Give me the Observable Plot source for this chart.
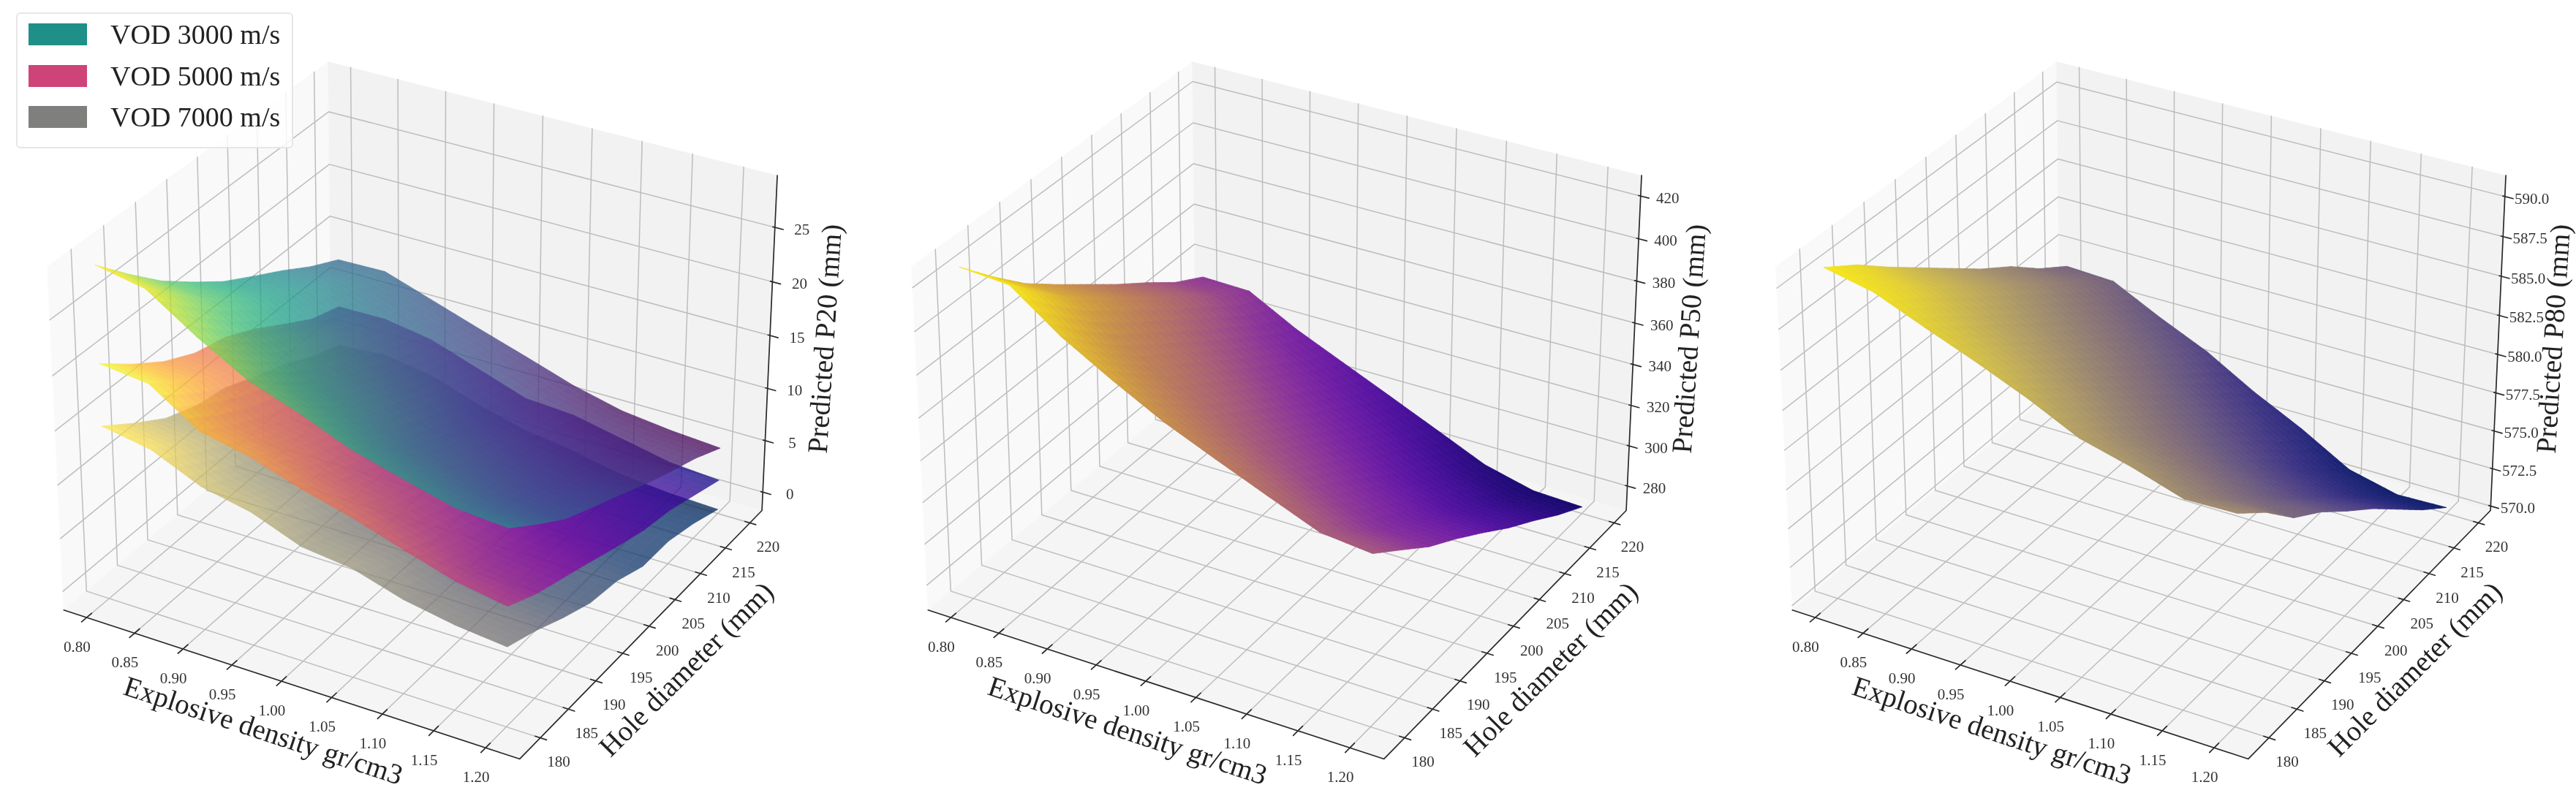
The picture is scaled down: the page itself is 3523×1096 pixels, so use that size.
<!DOCTYPE html>
<html><head><meta charset="utf-8">
<script src="https://cdn.jsdelivr.net/npm/d3@7"></script>
<script src="https://cdn.jsdelivr.net/npm/@observablehq/plot@0.6"></script>
<style>
html,body{margin:0;padding:0;background:#fff}
#wrap{position:relative;width:3523px;height:1096px;overflow:hidden;font-family:"Liberation Serif",serif}
#wrap svg{filter:blur(0.7px)}
#legend{position:absolute;left:22px;top:17px;width:379px;height:186px;box-sizing:border-box;background:rgba(255,255,255,.82);border:2px solid #e6e6e6;border-radius:6px;filter:blur(0.5px)}
.row{position:absolute;left:15px;height:30px;display:flex;align-items:center;font-size:38px;color:#222;white-space:nowrap}
.sw{display:inline-block;width:80px;height:30px;margin-right:32px}
</style></head><body>
<div id="wrap">
<div id="chart"></div>
<div id="legend"></div>
</div>
<script>
// ---- data ----
const densities = [0.80,0.85,0.90,0.95,1.00,1.05,1.10,1.15,1.20];
const holeDiameters = [180,185,190,195,200,205,210,215,220];
const legendLabels = ["VOD 3000 m/s","VOD 5000 m/s","VOD 7000 m/s"];
const legendColors = ["#1e9088","#cf4478","#7f7f7d"];
const zTicksP20 = [0,5,10,15,20,25];
const zTicksP50 = [280,300,320,340,360,380,400,420];
const zTicksP80 = [570,572.5,575,577.5,580,582.5,585,587.5,590];
// rows: hole diameter 180..220, columns: density 0.80..1.20
const p20Vod3000 = [
[28.9,28.05,25.1,22.55,20.96,19.1,17.85,16.65,16.3],
[25.95,25.25,22.5,20.15,18.6,16.8,15.6,14.5,14.2],
[23.2,22.65,20.1,17.9,16.4,14.65,13.5,12.55,12.25],
[20.95,20.55,18.25,16.2,14.75,13.1,12,11.15,10.9],
[18.85,18.6,16.5,14.6,13.2,11.65,10.6,9.85,9.6],
[17.2,17.05,15.05,13.25,11.85,10.3,9.2,8.5,8.25],
[15.6,15.5,13.7,12,10.6,9.05,8,7.35,7.05],
[13.85,13.9,12.3,10.7,9.3,7.85,6.8,6.2,5.95],
[12.4,12.5,11,9.5,8.05,6.55,5.45,4.9,4.56]];
const p20Vod5000 = [
[20.1,19.6,16.65,15.7,14.2,13,11.5,10.1,9.3],
[17.8,17.4,14.8,13.8,12.35,11.3,9.9,8.6,7.9],
[15.8,15.55,13.25,12.25,10.8,9.95,8.65,7.5,6.9],
[14.35,14.15,12.1,11,9.6,8.8,7.6,6.45,5.9],
[13.6,13.35,11.5,10.2,8.65,7.9,6.65,5.45,4.85],
[12.2,12,10.4,9.05,7.45,6.8,5.6,4.45,3.9],
[10.45,10.4,9.15,7.8,6.3,5.85,4.8,3.75,3.35],
[8.75,8.8,7.85,6.45,4.95,4.6,3.65,2.75,2.4],
[7.8,7.85,7.1,5.55,4,3.7,2.75,1.8,1.45]];
const p20Vod7000 = [
[14.4,13.6,11.6,10.65,8.9,8.35,6.95,6.1,5.6],
[12.35,11.75,10,9,7.4,6.9,5.6,4.9,4.5],
[10.5,10.05,8.45,7.4,5.9,5.4,4.2,3.5,3.15],
[9.4,9,7.5,6.3,4.8,4.2,3,2.35,2],
[8.85,8.6,7.2,5.95,4.45,3.85,2.6,1.95,1.55],
[7.65,7.45,6.2,4.85,3.35,2.7,1.5,.85,.45],
[6.5,6.55,5.5,4.15,2.85,2.2,1.2,.65,.4],
[5.1,5.3,4.45,3,1.8,1.2,.25,-.2,-.35],
[4,4.3,3.6,2.05,.85,.2,-.75,-1.2,-1.4]];
const p50Surface = [
[424.5,422.7,406,392.8,380.6,370.6,360.9,351.4,349],
[409,407.7,391.9,379.4,367.8,358.1,348.6,339.9,338],
[394.9,393.9,378.7,366.7,355.5,345.9,336.5,328.4,326.8],
[383.4,382.7,368.1,356.6,345.7,336.1,326.8,319.2,317.9],
[372.4,371.7,357.7,346.5,335.8,326.1,316.6,309.4,308.2],
[361.4,360.7,347.1,336.1,325.6,315.8,306,299.2,298],
[351.2,350.6,337.5,326.8,316.4,306.5,296.6,290,289],
[340.3,339.8,327.1,316.7,306.6,296.5,286.5,280.3,279.4],
[332,331.4,319,308.8,298.6,288.3,277.9,272,271]];
const p80Surface = [
[590.6,589.95,588.7,587.5,586.2,584.7,583.9,582.9,583],
[589.3,588.7,587.3,586.1,584.7,583.2,582.25,581.3,581.4],
[587.7,587.2,585.85,584.6,583.2,581.65,580.6,579.7,579.4],
[586.2,585.8,584.4,583.15,581.65,580.15,579,578.05,578.1],
[584.7,584.4,583,581.7,580.15,578.6,577.3,576.45,576.5],
[583.2,583,581.6,580.25,578.65,577.1,575.7,574.85,575],
[581.9,581.6,580.15,578.8,577.1,575.6,574,573.2,573.3],
[580.3,580.2,578.7,577.35,575.6,574.05,572.4,571.6,571.6],
[579,578.85,577.3,575.9,574.1,572.55,570.75,570,570.1]];

// ---- axis limits and colour ramps ----
const xLim=[0.776,1.2326], yLim=[176.4,222.5];
const p50Ramp=["#180a6e","#3d0e96","#6518a8","#8a2fa0","#a55a7c","#b8785f","#cc9645","#e6c22a","#f7ea1a"];
const p80Ramp=["#0e1f6a","#2a2a80","#4a3c88","#6a5a84","#857078","#a08c70","#bca860","#dcc840","#f8e81a"];
const panels=[
 {zLim:[-1.8,29.7],ticks:zTicksP20,fmt:d=>String(d),title:"Predicted P20 (mm)",
  surfaces:[{z:p20Vod7000,ramp:d3.interpolateCividis,op:.75},{z:p20Vod5000,ramp:d3.interpolatePlasma,op:.75},{z:p20Vod3000,ramp:d3.interpolateViridis,op:.75}]},
 {zLim:[267.7,429.5],ticks:zTicksP50,fmt:d=>String(d),title:"Predicted P50 (mm)",
  surfaces:[{z:p50Surface,ramp:d3.interpolateRgbBasis(p50Ramp),op:1}]},
 {zLim:[569.7,591.3],ticks:zTicksP80,fmt:d=>d.toFixed(1),title:"Predicted P80 (mm)",
  surfaces:[{z:p80Surface,ramp:d3.interpolateRgbBasis(p80Ramp),op:1}]}
];

// ---- matplotlib-style camera (azim -60, elev 30, dist 10) ----
const az=-60*Math.PI/180, el=30*Math.PI/180, dist=10;
const bs=1.8294640721620434*25/24/Math.hypot(4,4,3), box=[4*bs,4*bs,3*bs];
const w=[Math.cos(el)*Math.cos(az),Math.cos(el)*Math.sin(az),Math.sin(el)];
const uN=Math.hypot(w[1],w[0]), u=[-w[1]/uN,w[0]/uN,0];
const v=[w[1]*u[2]-w[2]*u[1],w[2]*u[0]-w[0]*u[2],w[0]*u[1]-w[1]*u[0]];
const dot=(a,b)=>a[0]*b[0]+a[1]*b[1]+a[2]*b[2];
const panelShift=0.197;
function project(p,x,y,z){
  const zl=panels[p].zLim;
  const d=[((x-xLim[0])/(xLim[1]-xLim[0])-.5)*box[0],((y-yLim[0])/(yLim[1]-yLim[0])-.5)*box[1],((z-zl[0])/(zl[1]-zl[0])-.5)*box[2]];
  const depth=dist-dot(w,d);
  return {sx:dot(u,d)/depth+p*panelShift, sy:dot(v,d)/depth};
}

// ---- build tables ----
const panes=[],grid=[],axes=[],ticks=[],labels=[],axisTitles=[];
let id=0;
const poly=(arr,p,pts,extra)=>{id++;pts.forEach(q=>arr.push({id,...project(p,q[0],q[1],q[2]),...extra}));};
panels.forEach((P,p)=>{
  const [x0,x1]=xLim,[y0,y1]=yLim,[z0,z1]=P.zLim;
  poly(panes,p,[[x0,y0,z0],[x0,y1,z0],[x0,y1,z1],[x0,y0,z1]],{c:"#f9f9fa"});
  poly(panes,p,[[x0,y1,z0],[x1,y1,z0],[x1,y1,z1],[x0,y1,z1]],{c:"#f2f2f2"});
  poly(panes,p,[[x0,y0,z0],[x1,y0,z0],[x1,y1,z0],[x0,y1,z0]],{c:"#f5f5f5"});
  densities.forEach(x=>{poly(grid,p,[[x,y0,z0],[x,y1,z0],[x,y1,z1]]);});
  holeDiameters.forEach(y=>{poly(grid,p,[[x1,y,z0],[x0,y,z0],[x0,y,z1]]);});
  P.ticks.forEach(z=>{poly(grid,p,[[x0,y0,z],[x0,y1,z],[x1,y1,z]]);});
  poly(axes,p,[[x0,y0,z0],[x1,y0,z0],[x1,y1,z0],[x1,y1,z1]]);
  densities.forEach(x=>{poly(ticks,p,[[x,y0+.8,z0],[x,y0-.8,z0]]);
    labels.push({...project(p,x,y0,z0),t:x.toFixed(2),dx:-13,dy:40});});
  holeDiameters.forEach(y=>{poly(ticks,p,[[x1-.005,y,z0],[x1+.006,y,z0]]);
    labels.push({...project(p,x1,y,z0),t:String(y),dx:25,dy:33});});
  P.ticks.forEach(z=>{poly(ticks,p,[[x1-.002,y1,z],[x1+.008,y1,z]]);
    labels.push({...project(p,x1,y1,z),t:P.fmt(z),dx:37,dy:3});});
  axisTitles.push({...project(p,1.0,y0,z0),t:"Explosive density gr/cm3",r:18.2});
  axisTitles.push({...project(p,x1,200,z0),t:"Hole diameter (mm)",r:-45});
  axisTitles.push({...project(p,x1,y1,(z0+z1)/2),t:P.title,r:-86.3});
});

// facets: each grid cell is shaded through small Gouraud-style facets
const sub=4;
function facets(p,S){
  const rows=[],Z=S.z,flat=Z.flat(),lo=d3.min(flat),hi=d3.max(flat);
  for(let j=Z.length-2;j>=0;j--)for(let i=0;i<Z[0].length-1;i++){
    const x=densities[i],dx=densities[i+1]-x,y=holeDiameters[j],dy=holeDiameters[j+1]-y;
    const a=Z[j][i],b=Z[j][i+1],c=Z[j+1][i],e=Z[j+1][i+1];
    const zAt=(s,t)=>a*(1-s)*(1-t)+b*s*(1-t)+c*(1-s)*t+e*s*t;
    for(let m=sub-1;m>=0;m--)for(let n=0;n<sub;n++){
      const s0=n/sub,s1=(n+1)/sub,t0=m/sub,t1=(m+1)/sub;
      const zm=zAt((s0+s1)/2,(t0+t1)/2),col=d3.color(S.ramp((zm-lo)/(hi-lo))).formatHex();
      id++;
      [[s0,t0],[s1,t0],[s1,t1],[s0,t1]].forEach(([s,t])=>rows.push({id,...project(p,x+s*dx,y+t*dy,zAt(s,t)),c:col}));
    }
  }
  return rows;
}
const surfaceMarks=[], translucent=[];
panels.forEach((P,p)=>P.surfaces.forEach(S=>{
  if(S.op<1) translucent.push({index:2+surfaceMarks.length,op:S.op});
  surfaceMarks.push(Plot.line(facets(p,S),{x:"sx",y:"sy",z:"id",fill:"c",stroke:"c",strokeWidth:.8,curve:"linear-closed"}));
}));

const pxPerUnit=6000, originX=573, originY=538, W=3523, H=1096;
const chart=Plot.plot({
  width:W,height:H,margin:0,
  x:{axis:null,domain:[-originX/pxPerUnit,(W-originX)/pxPerUnit],range:[0,W]},
  y:{axis:null,domain:[originY/pxPerUnit,(originY-H)/pxPerUnit],range:[0,H]},
  color:{type:"identity"},
  style:{background:"#fff",fontFamily:'"Liberation Serif",serif'},
  marks:[
    Plot.line(panes,{x:"sx",y:"sy",z:"id",fill:"c",stroke:"c",strokeWidth:.5,curve:"linear-closed"}),
    Plot.line(grid,{x:"sx",y:"sy",z:"id",stroke:"#bdbdbd",strokeWidth:1.5}),
    ...surfaceMarks,
    Plot.line(axes,{x:"sx",y:"sy",z:"id",stroke:"#2a2a2a",strokeWidth:1.7}),
    Plot.line(ticks,{x:"sx",y:"sy",z:"id",stroke:"#2a2a2a",strokeWidth:1.7}),
    Plot.text(labels.filter(d=>d.dx===-13),{x:"sx",y:"sy",text:"t",dx:-13,dy:40,fontSize:21,fill:"#333"}),
    Plot.text(labels.filter(d=>d.dx===25),{x:"sx",y:"sy",text:"t",dx:25,dy:33,fontSize:21,fill:"#333"}),
    Plot.text(labels.filter(d=>d.dx===37),{x:"sx",y:"sy",text:"t",dx:37,dy:3,fontSize:21,fill:"#333"}),
    Plot.text(axisTitles.filter(d=>d.r===18.2),{x:"sx",y:"sy",text:"t",rotate:18.2,dx:-25,dy:68,fontSize:39,fill:"#222"}),
    Plot.text(axisTitles.filter(d=>d.r===-45),{x:"sx",y:"sy",text:"t",rotate:-45,dx:51,dy:59,fontSize:39,fill:"#222"}),
    Plot.text(axisTitles.filter(d=>d.r===-86.3),{x:"sx",y:"sy",text:"t",rotate:-86.3,dx:76,dy:-11,fontSize:39,fill:"#222"})
  ]
});
const lineGroups=chart.querySelectorAll('g[aria-label="line"]');
translucent.forEach(t=>lineGroups[t.index].setAttribute("opacity",t.op));
document.getElementById("chart").appendChild(chart);
const lg=document.getElementById("legend");
legendLabels.forEach((t,i)=>{
  const r=document.createElement("div");r.className="row";r.style.top=(13+i*56.5)+"px";
  r.innerHTML='<span class="sw" style="background:'+legendColors[i]+'"></span>'+t;
  lg.appendChild(r);
});
</script>
</body></html>
